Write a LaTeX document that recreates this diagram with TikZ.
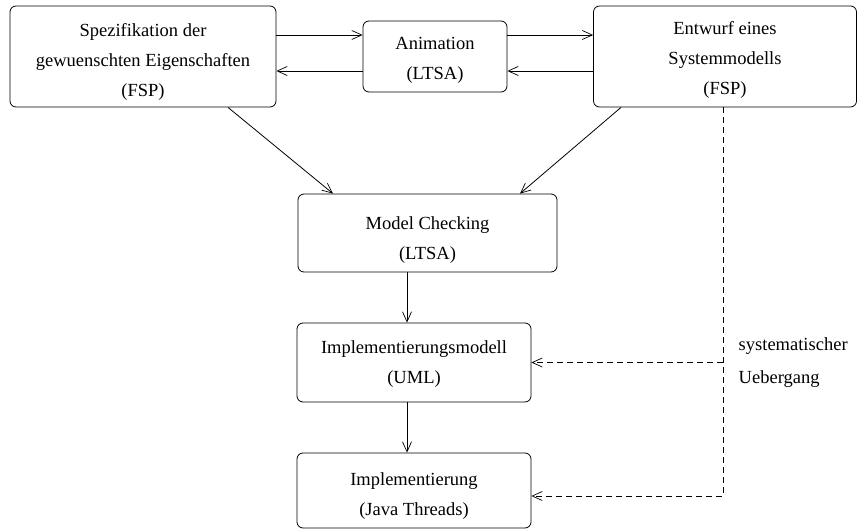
\documentclass[tikz,border=0pt]{standalone}
\usepackage{fontspec}
\setmainfont{Liberation Serif}
\usetikzlibrary{arrows.meta}
\begin{document}
\begin{tikzpicture}[x=1pt, y=-1pt, line width=0.8pt,
        >={Straight Barb[length=10pt,width=9pt,line width=0.7pt]},
        kasten/.style={draw, rounded corners=6pt, align=center, inner sep=0pt,
          font=\fontsize{18.5}{30}\selectfont},
        tief/.style={text height=#1, text depth=0pt},
        uebergang/.style={dashed, dash pattern=on 6pt off 4pt}]
        \useasboundingbox (0, 0) rectangle (858, 529);
        \node [kasten, tief=80pt, minimum width=266pt, minimum height=101pt] (spec) at (143, 56.5) {Spezifikation der\\gewuenschten Eigenschaften\\(FSP)};
        \node [kasten, tief=46pt, minimum width=144pt, minimum height=71pt] (anim) at (435, 56.5) {Animation\\(LTSA)};
        \node [kasten, tief=76pt, minimum width=263pt, minimum height=101pt] (entw) at (725, 56.5) {Entwurf eines\\Systemmodells\\(FSP)};
        \node [kasten, tief=53pt, minimum width=259pt, minimum height=78pt] (mc) at (427.5, 233) {Model Checking\\(LTSA)};
        \node [kasten, tief=42pt, minimum width=234pt, minimum height=79pt] (impm) at (414, 362.5) {Implementierungsmodell\\(UML)};
        \node [kasten, tief=50pt, minimum width=234pt, minimum height=75pt] (impl) at (414, 490.5) {Implementierung\\(Java Threads)};
        \draw [->] ([yshift=21.5pt]spec.east) -- ([yshift=21.5pt]anim.west);
        \draw [->] ([yshift=-14.5pt]anim.west) -- ([yshift=-14.5pt]spec.east);
        \draw [->] ([yshift=21.5pt]anim.east) -- ([yshift=21.5pt]entw.west);
        \draw [->] ([yshift=-14.5pt]entw.west) -- ([yshift=-14.5pt]anim.east);
        \draw [->] ([xshift=85pt]spec.south) -- ([xshift=-94.5pt]mc.north);
        \draw [->] ([xshift=-104pt]entw.south) -- ([xshift=92.5pt]mc.north);
        \draw [->] ([xshift=-20.5pt]mc.south) -- ([xshift=-7pt]impm.north);
        \draw [->] ([xshift=-7pt]impm.south) -- ([xshift=-7pt]impl.north);
        \coordinate (knick) at ([xshift=-2pt]entw.south);
        \draw [uebergang, ->] (knick) |- ([yshift=-5.5pt]impl.east);
        \draw [uebergang, ->] (knick |- impm.east) -- (impm.east) node [pos=0, right=12pt, align=left, font=\fontsize{18.5}{33}\selectfont] {systematischer\\Uebergang};
      \end{tikzpicture}
\end{document}
